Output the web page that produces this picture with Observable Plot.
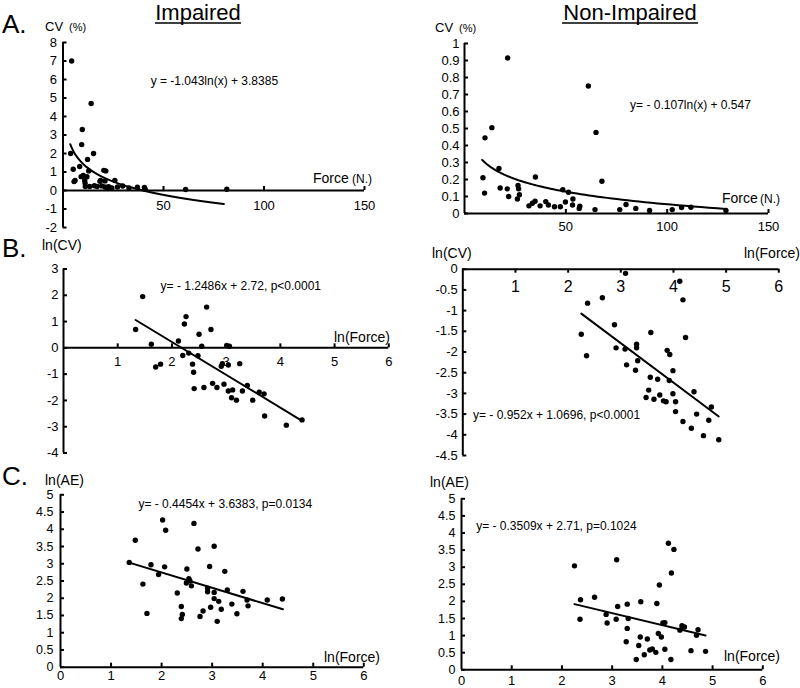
<!DOCTYPE html>
<html><head><meta charset="utf-8">
<script src="https://cdn.jsdelivr.net/npm/d3@7"></script>
<script src="https://cdn.jsdelivr.net/npm/@observablehq/plot@0.6"></script>
<style>
body{margin:0;background:#fff;}
#wrap{position:relative;width:800px;height:688px;overflow:hidden;font-family:"Liberation Sans",Arial,sans-serif;background:#fff;}
#wrap svg{position:absolute;}
</style></head><body>
<div id="wrap"></div>
<script>
// ---------- DATA ----------
// Panel A (Impaired): Force (N) vs CV (%)
const forceImp = [3.8, 4.3, 5.1, 5.5, 6.0, 8.3, 9.0, 9.3, 9.6, 10.1, 10.8, 11.0, 11.1, 11.9, 12.2, 12.8, 13.3, 14.0, 15.2, 15.6, 17.0, 18.4, 18.7, 19.3, 20.3, 20.9, 20.9, 21.3, 22.2, 22.7, 24.3, 25.8, 27.1, 29.7, 32.8, 37.0, 40.5, 40.9, 61.0, 81.5];
const cvImp    = [2.0, 7.0, 1.15, 0.48, 0.54, 1.3, 0.75, 2.48, 3.3, 0.82, 0.54, 0.39, 0.21, 0.74, 1.68, 1.06, 0.22, 4.7, 2.0, 0.26, 0.22, 0.5, 0.55, 0.25, 1.09, 0.19, 0.52, 1.06, 0.15, 0.2, 0.14, 0.55, 0.19, 0.24, 0.14, 0.18, 0.17, 0.075, 0.053, 0.065];
// Panel A (Non-Impaired)
const forceNon = [9.1, 9.9, 10.1, 13.5, 17.0, 17.6, 21.3, 21.1, 21.8, 26.4, 26.7, 27.1, 26.1, 31.8, 33.5, 34.8, 35.0, 37.3, 40.1, 41.4, 44.4, 47.3, 48.5, 49.8, 51.3, 53.5, 53.3, 56.6, 56.9, 61.1, 64.9, 64.4, 67.8, 76.6, 79.7, 84.5, 91.3, 102.5, 107.1, 111.7, 129];
const cvNon    = [0.21, 0.12, 0.445, 0.505, 0.265, 0.15, 0.915, 0.145, 0.10, 0.165, 0.145, 0.11, 0.085, 0.045, 0.06, 0.072, 0.215, 0.045, 0.07, 0.05, 0.04, 0.04, 0.14, 0.068, 0.125, 0.085, 0.05, 0.03, 0.043, 0.75, 0.477, 0.023, 0.19, 0.023, 0.053, 0.03, 0.018, 0.023, 0.035, 0.037, 0.018];
// Panel B (Impaired): ln(Force) vs ln(CV)
const lnForceImpB = [1.33, 1.46, 1.62, 1.70, 1.79, 2.12, 2.20, 2.23, 2.26, 2.31, 2.38, 2.40, 2.41, 2.48, 2.50, 2.55, 2.59, 2.64, 2.72, 2.75, 2.83, 2.91, 2.93, 2.96, 3.01, 3.04, 3.04, 3.06, 3.10, 3.12, 3.19, 3.25, 3.30, 3.39, 3.49, 3.61, 3.70, 3.71, 4.11, 4.40];
const lnCvImp     = [0.70, 1.95, 0.14, -0.73, -0.62, 0.26, -0.29, 0.91, 1.19, -0.20, -0.62, -0.93, -1.55, -0.30, 0.52, 0.06, -1.51, 1.55, 0.70, -1.35, -1.51, -0.70, -0.60, -1.38, 0.09, -1.64, -0.65, 0.06, -1.90, -1.60, -1.99, -0.60, -1.64, -1.43, -1.99, -1.69, -1.75, -2.59, -2.94, -2.74];
// Panel B (Non-Impaired)
const lnForceNonB = [2.25, 2.35, 2.37, 2.65, 2.88, 2.91, 3.08, 3.09, 3.11, 3.30, 3.30, 3.28, 3.32, 3.48, 3.53, 3.56, 3.57, 3.63, 3.70, 3.74, 3.81, 3.86, 3.88, 3.93, 3.92, 3.99, 3.99, 4.04, 4.04, 4.12, 4.18, 4.18, 4.23, 4.39, 4.44, 4.34, 4.57, 4.67, 4.72, 4.86];
const lnCvNon     = [-1.57, -2.09, -0.82, -0.69, -1.34, -1.90, -1.93, -0.10, -2.31, -1.81, -1.90, -2.44, -2.21, -3.10, -2.92, -2.61, -1.53, -3.14, -2.66, -3.04, -3.18, -3.20, -1.96, -2.06, -2.69, -2.45, -3.01, -3.20, -3.44, -0.29, -3.68, -0.74, -1.65, -2.96, -3.50, -3.84, -4.02, -3.65, -3.33, -4.12];
// Panel C (Impaired): ln(Force) vs ln(AE)
const lnForceImpC = [1.36, 1.48, 1.63, 1.71, 1.79, 1.94, 2.02, 2.08, 2.06, 2.31, 2.39, 2.41, 2.39, 2.49, 2.50, 2.54, 2.56, 2.59, 2.64, 2.72, 2.76, 2.82, 2.91, 2.91, 2.95, 2.97, 3.04, 3.04, 3.04, 3.10, 3.13, 3.18, 3.25, 3.30, 3.39, 3.49, 3.61, 3.69, 3.71, 4.09, 4.39];
const lnAeImp     = [3.04, 3.68, 2.41, 1.56, 2.97, 2.69, 4.27, 3.97, 2.91, 2.15, 1.76, 1.53, 1.41, 2.44, 2.85, 2.57, 2.50, 2.36, 4.17, 3.43, 1.47, 1.63, 2.29, 2.19, 2.92, 1.74, 3.51, 2.17, 1.99, 1.33, 1.91, 1.68, 2.78, 2.24, 1.83, 1.55, 2.20, 1.95, 1.78, 1.95, 1.98];
// Panel C (Non-Impaired)
const lnForceNonC = [2.25, 2.37, 2.36, 2.65, 2.88, 2.90, 3.08, 3.09, 3.11, 3.30, 3.32, 3.30, 3.28, 3.48, 3.53, 3.56, 3.57, 3.64, 3.70, 3.75, 3.80, 3.87, 3.89, 3.94, 3.92, 3.98, 4.01, 4.05, 4.05, 4.12, 4.17, 4.18, 4.23, 4.35, 4.39, 4.44, 4.57, 4.68, 4.71, 4.86];
const lnAeNon     = [3.04, 2.05, 1.48, 2.12, 1.62, 1.37, 1.48, 3.22, 1.85, 1.92, 1.50, 1.21, 0.82, 0.30, 0.71, 0.96, 1.99, 0.44, 0.90, 0.58, 0.61, 0.51, 1.94, 2.48, 1.06, 0.96, 1.37, 1.38, 0.60, 3.70, 0.30, 2.83, 3.52, 1.16, 1.29, 1.25, 0.56, 1.01, 1.17, 0.54];

// Fitted equations (coefficients as printed) and the x-extent of each drawn fit
const fitA_imp = {a: -1.043, b: 3.8385, from: 3.6, to: 80};
const fitA_non = {a: -0.107, b: 0.547, from: 8.7, to: 129};
const fitB_imp = {a: -1.2486, b: 2.72, from: 1.33, to: 4.40};
const fitB_non = {a: -0.952, b: 1.0696, from: 2.25, to: 4.86};
const fitC_imp = {a: -0.4454, b: 3.6383, from: 1.36, to: 4.40};
const fitC_non = {a: -0.3509, b: 2.71, from: 2.25, to: 4.86};

const eqA_imp = "y = -1.043ln(x) + 3.8385";
const eqA_non = "y= - 0.107ln(x) + 0.547";
const eqB_imp = "y= - 1.2486x + 2.72, p<0.0001";
const eqB_non = "y= - 0.952x + 1.0696, p<0.0001";
const eqC_imp = "y= - 0.4454x + 3.6383, p=0.0134";
const eqC_non = "y= - 0.3509x + 2.71, p=0.1024";

// Tick values and labels
const xTicksA = [50, 100, 150];
const xLabelsA = ["50", "100", "150"];
const yTicksAimp = [-2, -1, 0, 1, 2, 3, 4, 5, 6, 7, 8];
const yLabelsAimp = ["-2", "-1", "0", "1", "2", "3", "4", "5", "6", "7", "8"];
const yTicksAnon = [0, 0.1, 0.2, 0.3, 0.4, 0.5, 0.6, 0.7, 0.8, 0.9, 1];
const yLabelsAnon = ["0", "0.1", "0.2", "0.3", "0.4", "0.5", "0.6", "0.7", "0.8", "0.9", "1"];
const xTicksB = [1, 2, 3, 4, 5, 6];
const xLabelsB = ["1", "2", "3", "4", "5", "6"];
const yTicksBimp = [-4, -3, -2, -1, 0, 1, 2, 3];
const yLabelsBimp = ["-4", "-3", "-2", "-1", "0", "1", "2", "3"];
const yTicksBnon = [0, -0.5, -1, -1.5, -2, -2.5, -3, -3.5, -4, -4.5];
const yLabelsBnon = ["0", "-0.5", "-1", "-1.5", "-2", "-2.5", "-3", "-3.5", "-4", "-4.5"];
const xTicksC = [0, 1, 2, 3, 4, 5, 6];
const xLabelsC = ["0", "1", "2", "3", "4", "5", "6"];
const yTicksC = [0, 0.5, 1, 1.5, 2, 2.5, 3, 3.5, 4, 4.5, 5];
const yLabelsC = ["0", "0.5", "1", "1.5", "2", "2.5", "3", "3.5", "4", "4.5", "5"];

// ---------- DRAWING ----------
const FONT = '"Liberation Sans", Arial, sans-serif';
const wrap = document.getElementById("wrap");
const TICK = 4; // tick length in px

function fitPoints(f, log) {
  if (!log) return [{x: f.from, y: f.a * f.from + f.b}, {x: f.to, y: f.a * f.to + f.b}];
  const n = 80, pts = [];
  for (let i = 0; i <= n; i++) {
    const x = f.from * Math.pow(f.to / f.from, i / n);
    pts.push({x, y: f.a * Math.log(x) + f.b});
  }
  return pts;
}

function panel(p) {
  const mL = p.xpx[0] - p.left, mR = p.left + p.w - p.xpx[1];
  const mT = p.ypx[1] - p.top, mB = p.top + p.h - p.ypx[0];
  const kx = (p.xpx[1] - p.xpx[0]) / (p.xdom[1] - p.xdom[0]);
  const ky = (p.ypx[0] - p.ypx[1]) / (p.ydom[1] - p.ydom[0]);
  const pts = p.xs.map((x, i) => ({x, y: p.ys[i]}));
  const ax = p.xAxisAt;
  const tEnd = ax + (p.tickDown ? -TICK / ky : TICK / ky);
  const chart = Plot.plot({
    width: p.w, height: p.h,
    marginLeft: mL, marginRight: mR, marginTop: mT, marginBottom: mB,
    style: {background: "transparent", overflow: "visible", fontFamily: FONT, color: "black"},
    x: {domain: p.xdom, axis: null},
    y: {domain: p.ydom, axis: null},
    marks: [
      Plot.ruleY([ax], {x1: p.xdom[0], x2: p.xdom[1], stroke: "black", strokeWidth: 2}),
      Plot.ruleX([0], {y1: p.ydom[0], y2: p.ydom[1], stroke: "black", strokeWidth: 2}),
      Plot.ruleX(p.xticks.filter(d => d !== 0), {x: d => d, y1: ax, y2: tEnd, stroke: "black", strokeWidth: 2}),
      Plot.ruleY(p.yticks, {y: d => d, x1: 0, x2: TICK / kx, stroke: "black", strokeWidth: 2}),
      Plot.text(p.xticks, {x: d => d, y: ax, text: (d, i) => p.xlabels[i], dy: p.xdy, fontSize: p.xfs, fill: "black"}),
      Plot.text(p.yticks, {x: 0, y: d => d, text: (d, i) => p.ylabels[i], dx: p.ydx, textAnchor: "end", fontSize: p.yfs, fill: "black"}),
      Plot.line(fitPoints(p.fit, p.log), {x: "x", y: "y", stroke: "black", strokeWidth: 2}),
      Plot.dot(pts, {x: "x", y: "y", r: 2.7, fill: "black"}),
      Plot.text([p.eq], {x: p.eqAt[0], y: p.eqAt[1], text: d => d, fontSize: 12, fill: "black"})
    ]
  });
  chart.style.left = p.left + "px";
  chart.style.top = p.top + "px";
  wrap.appendChild(chart);
}

panel({left: 0, top: 0, w: 400, h: 240, xpx: [62.5, 364], ypx: [227, 42], xdom: [0, 150], ydom: [-2, 8], xAxisAt: 0,
  xs: forceImp, ys: cvImp, xticks: xTicksA, xlabels: xLabelsA, yticks: yTicksAimp, ylabels: yLabelsAimp,
  xdy: 15, xfs: 13, ydx: -6, yfs: 13, fit: fitA_imp, log: true, eq: eqA_imp, eqAt: [75.3, 5.9]});
panel({left: 400, top: 0, w: 400, h: 240, xpx: [464, 768], ypx: [213, 43], xdom: [0, 150], ydom: [0, 1], xAxisAt: 0,
  xs: forceNon, ys: cvNon, xticks: xTicksA, xlabels: xLabelsA, yticks: yTicksAnon, ylabels: yLabelsAnon,
  xdy: 13, xfs: 13, ydx: -5, yfs: 13, fit: fitA_non, log: true, eq: eqA_non, eqAt: [111.5, 0.635]});
panel({left: 0, top: 230, w: 400, h: 235, xpx: [63, 388.3], ypx: [452.5, 268.5], xdom: [0, 6], ydom: [-4, 3], xAxisAt: 0,
  xs: lnForceImpB, ys: lnCvImp, xticks: xTicksB, xlabels: xLabelsB, yticks: yTicksBimp, ylabels: yLabelsBimp,
  xdy: 14, xfs: 13, ydx: -5, yfs: 13, fit: fitB_imp, log: false, eq: eqB_imp, eqAt: [3.27, 2.33]});
panel({left: 400, top: 230, w: 400, h: 235, xpx: [462.3, 778.3], ypx: [455, 268.7], xdom: [0, 6], ydom: [-4.5, 0], xAxisAt: 0,
  xs: lnForceNonB, ys: lnCvNon, xticks: xTicksB, xlabels: xLabelsB, yticks: yTicksBnon, ylabels: yLabelsBnon,
  xdy: 18, xfs: 16, ydx: -5, yfs: 13, tickDown: true, fit: fitB_non, log: false, eq: eqB_non, eqAt: [1.78, -3.53]});
panel({left: 0, top: 460, w: 400, h: 228, xpx: [60, 363.3], ypx: [666.7, 494.3], xdom: [0, 6], ydom: [0, 5], xAxisAt: 0,
  xs: lnForceImpC, ys: lnAeImp, xticks: xTicksC, xlabels: xLabelsC, yticks: yTicksC, ylabels: yLabelsC,
  xdy: 9, xfs: 13, ydx: -7, yfs: 12.5, fit: fitC_imp, log: false, eq: eqC_imp, eqAt: [3.26, 4.74]});
panel({left: 400, top: 460, w: 400, h: 228, xpx: [461, 762.3], ypx: [669.3, 498.3], xdom: [0, 6], ydom: [0, 5], xAxisAt: 0,
  xs: lnForceNonC, ys: lnAeNon, xticks: xTicksC, xlabels: xLabelsC, yticks: yTicksC, ylabels: yLabelsC,
  xdy: 11, xfs: 13, ydx: -6, yfs: 12.5, fit: fitC_non, log: false, eq: eqC_non, eqAt: [1.89, 4.19]});

// ---------- TITLES, PANEL LETTERS, AXIS TITLES ----------
const svg = d3.select(wrap).append("svg").attr("width", 800).attr("height", 688)
  .style("left", "0px").style("top", "0px").style("font-family", FONT);
function txt(x, y, s, size, anchor) {
  svg.append("text").attr("x", x).attr("y", y).attr("font-size", size)
    .attr("text-anchor", anchor || "start").attr("fill", "black").text(s);
}
txt(198, 20, "Impaired", 22, "middle");
svg.append("line").attr("x1", 155).attr("x2", 241).attr("y1", 23).attr("y2", 23).attr("stroke", "black").attr("stroke-width", 1.5);
txt(630, 20, "Non-Impaired", 22, "middle");
svg.append("line").attr("x1", 562).attr("x2", 698).attr("y1", 23).attr("y2", 23).attr("stroke", "black").attr("stroke-width", 1.5);
txt(2, 33, "A.", 26);
txt(2, 257, "B.", 26);
txt(2, 485, "C.", 26);
txt(45, 31, "CV", 13); txt(69, 31, "(%)", 11);
txt(435, 32, "CV", 13); txt(459, 32, "(%)", 11);
txt(313, 183, "Force", 14); txt(352, 183, "(N.)", 12);
txt(722, 203, "Force", 14); txt(760, 203, "(N.)", 12);
txt(42, 250, "ln(CV)", 14);
txt(390, 342, "ln(Force)", 14, "end");
txt(432, 258, "ln(CV)", 14);
txt(800, 258, "ln(Force)", 14, "end");
txt(45, 485, "ln(AE)", 14);
txt(380, 662, "ln(Force)", 14, "end");
txt(430, 487, "ln(AE)", 14);
txt(780, 661, "ln(Force)", 14, "end");
</script>
</body></html>
